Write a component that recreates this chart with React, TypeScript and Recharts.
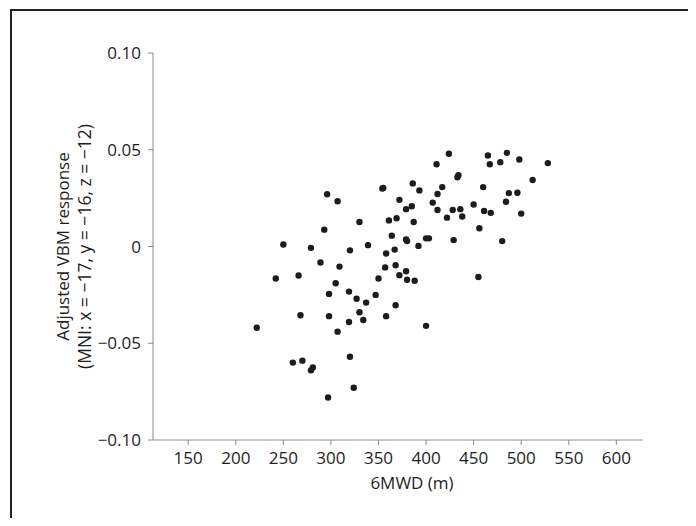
import React from 'react';
import { ScatterChart, Scatter, XAxis, YAxis } from 'recharts';

// 6MWD (m) for each subject
const walkDistance = [
  222, 250, 242, 266, 268, 260, 270, 279, 281, 279, 289, 293, 296, 307, 298, 298,
  297, 309, 305, 307, 320, 319, 319, 320, 324, 330, 327, 330, 334, 337, 339, 347,
  350, 354, 355, 361, 364, 358, 357, 358, 367, 369, 368, 372, 368, 372, 379, 385,
  386, 393, 387, 379, 380, 392, 379, 380, 388, 400, 403, 400, 407, 411, 412, 412,
  417, 422, 424, 428, 429, 433, 434, 436, 438, 450, 456, 455, 460, 461, 465, 467,
  468, 478, 480, 485, 484, 487, 496, 498, 500, 512, 528,
];

// adjusted VBM response, same order
const vbmResponse = [
  -0.042, 0.001, -0.0165, -0.015, -0.0355, -0.06, -0.059, -0.064, -0.0625, -0.0007,
  -0.0083, 0.0087, 0.027, 0.0234, -0.0245, -0.036, -0.078, -0.0104, -0.019, -0.044,
  -0.002, -0.0233, -0.039, -0.057, -0.073, 0.0127, -0.027, -0.034, -0.038, -0.029,
  0.0007, -0.025, -0.0165, 0.03, 0.0302, 0.0135, 0.0056, -0.0036, -0.0108, -0.036,
  -0.0016, 0.0146, -0.0097, -0.0148, -0.0304, 0.0241, 0.0193, 0.0208, 0.0326, 0.029,
  0.0127, 0.0036, 0.0028, 0.0003, -0.0128, -0.0172, -0.0177, 0.0042, 0.0042, -0.041,
  0.0227, 0.0425, 0.0271, 0.0189, 0.0307, 0.0149, 0.0479, 0.0189, 0.0033, 0.0358,
  0.0368, 0.0193, 0.0155, 0.0217, 0.0094, -0.0158, 0.0307, 0.0184, 0.047, 0.0425,
  0.0174, 0.0436, 0.0028, 0.0484, 0.0231, 0.0276, 0.0278, 0.045, 0.017, 0.0344,
  0.0431,
];

const xTicks = [150, 200, 250, 300, 350, 400, 450, 500, 550, 600];
const yTicks = [-0.1, -0.05, 0, 0.05, 0.1];
const yTickLabels = ['\u22120.10', '\u22120.05', '0', '0.05', '0.10'];

const xTitle = '6MWD (m)';
const yTitleLines = ['Adjusted VBM response', '(MNI: x = \u221217, y = \u221216, z = \u221212)'];

const points = walkDistance.map((x, i) => ({ x, y: vbmResponse[i] }));

const FONT = '"Open Sans", "Noto Sans", sans-serif';
const AXIS_COLOR = '#8a8a8a';
const TEXT_COLOR = '#1e1e1e';

const Dot = (props: any) => <circle cx={props.cx} cy={props.cy} r={3.2} fill="#1c1c1c" />;

const YTitle = (props: any) => {
  const cy = props.viewBox ? props.viewBox.y + props.viewBox.height / 2 : 200;
  return (
    <g fill={TEXT_COLOR} fontSize={17} fontFamily={FONT}>
      <text x={54} y={cy} transform={`rotate(-90 54 ${cy})`} textAnchor="middle" dominantBaseline="central">
        {yTitleLines[0]}
      </text>
      <text x={76} y={cy} transform={`rotate(-90 76 ${cy})`} textAnchor="middle" dominantBaseline="central" fontSize={17.5}>
        {yTitleLines[1]}
      </text>
    </g>
  );
};

export default function App() {
  return (
    <div style={{ position: 'relative', width: 680, height: 510, background: '#fff' }}>
      <div
        style={{
          position: 'absolute',
          left: 2,
          top: 1,
          right: -8,
          bottom: -8,
          borderTop: '2px solid #222',
          borderLeft: '2px solid #222',
        }}
      />
      <ScatterChart width={680} height={510} margin={{ top: 45, right: 45, left: 0, bottom: 0 }}>
        <XAxis
          type="number"
          dataKey="x"
          domain={[113, 628]}
          ticks={xTicks}
          allowDataOverflow
          height={78}
          stroke={AXIS_COLOR}
          tickSize={5}
          tickMargin={7}
          tick={{ fill: TEXT_COLOR, fontSize: 17, fontFamily: FONT }}
          label={{
            value: xTitle,
            position: 'insideBottom',
            offset: 29,
            dx: 14,
            fill: TEXT_COLOR,
            fontSize: 17,
            fontFamily: FONT,
          }}
        />
        <YAxis
          type="number"
          dataKey="y"
          domain={[-0.1, 0.1]}
          ticks={yTicks}
          allowDataOverflow
          width={145}
          stroke={AXIS_COLOR}
          tickSize={5}
          tickMargin={7}
          tickFormatter={(v: number) => yTickLabels[yTicks.indexOf(v)] ?? String(v)}
          tick={{ fill: TEXT_COLOR, fontSize: 17, fontFamily: FONT }}
          label={<YTitle />}
        />
        <Scatter data={points} shape={<Dot />} isAnimationActive={false} />
      </ScatterChart>
    </div>
  );
}
